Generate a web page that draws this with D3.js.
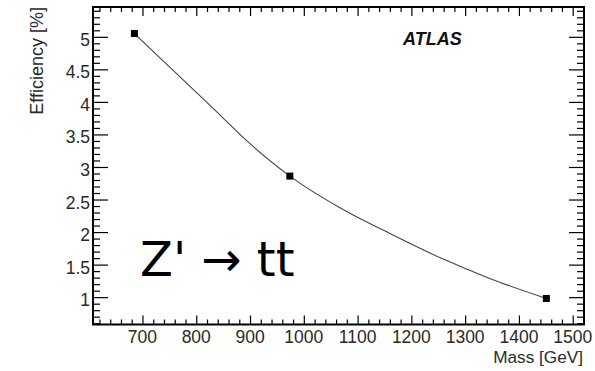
<!DOCTYPE html>
<html><head><meta charset="utf-8">
<script src="https://cdn.jsdelivr.net/npm/d3@7"></script>
<style>body{margin:0;background:#fff}svg{display:block}</style>
</head><body>
<svg id="c" width="595" height="371"></svg>
<script>
// measured points
const masses = [685, 974, 1451];
const efficiencies = [5.05, 2.86, 0.98];
// smooth curve through the points
const curveMasses = [685, 829, 901, 974, 1068, 1162, 1255, 1348, 1451];
const curveEff = [5.05, 3.92, 3.35, 2.86, 2.37, 1.97, 1.60, 1.28, 0.98];
const xTicks = [700, 800, 900, 1000, 1100, 1200, 1300, 1400, 1500];
const yTicks = [1, 1.5, 2, 2.5, 3, 3.5, 4, 4.5, 5];
const xLabel = "Mass [GeV]";
const yLabel = "Efficiency [%]";
const atlasLabel = "ATLAS";
const processLabel = "Z' \u2192 tt";

const svg = d3.select("#c");
const L = 93, R = 584, T = 7, B = 324.5;
const x = d3.scaleLinear().domain([608, 1521]).range([L, R]);
const y = d3.scaleLinear().domain([0.58, 5.458]).range([B, T]);
const font = "'Liberation Sans', Arial, sans-serif";

const xMinor = d3.range(620, 1521, 20).filter(v => v % 100 !== 0);
const yMinor = d3.range(6, 55, 1).filter(v => v % 5 !== 0).map(v => v / 10);

svg.append("rect").attr("x", L).attr("y", T).attr("width", R - L).attr("height", B - T)
  .attr("fill", "none").attr("stroke", "#000").attr("stroke-width", 2);

// tick labels
svg.append("g").selectAll("text").data(xTicks).join("text")
  .attr("x", d => x(d)).attr("y", 343).attr("text-anchor", "middle")
  .attr("font-family", font).attr("font-size", 17.5).attr("fill", "#2a2a2a").text(d => d);
svg.append("g").selectAll("text").data(yTicks).join("text")
  .attr("x", 90).attr("y", d => y(d) + 9).attr("text-anchor", "end")
  .attr("font-family", font).attr("font-size", 17.5).attr("fill", "#2a2a2a").text(d => d);

// axis titles
svg.append("text").attr("x", R - 1).attr("y", 363).attr("text-anchor", "end")
  .attr("font-family", font).attr("font-size", 17.2).attr("fill", "#2a2a2a").text(xLabel);
svg.append("text").attr("transform", "translate(43,7) rotate(-90)").attr("text-anchor", "end")
  .attr("font-family", font).attr("font-size", 18).attr("fill", "#2a2a2a").text(yLabel);

// curve
const curvePts = curveMasses.map((m, i) => [m, curveEff[i]]);
svg.append("path").datum(curvePts)
  .attr("d", d3.line().x(d => x(d[0])).y(d => y(d[1])).curve(d3.curveMonotoneX))
  .attr("fill", "none").attr("stroke", "#444").attr("stroke-width", 1.1);
const pts = masses.map((m, i) => [m, efficiencies[i]]);
svg.append("g").selectAll("rect").data(pts).join("rect")
  .attr("x", d => x(d[0]) - 3.5).attr("y", d => y(d[1]) - 3.5)
  .attr("width", 7).attr("height", 7).attr("fill", "#000");

// labels
svg.append("text").attr("x", 403).attr("y", 45).attr("font-family", font)
  .attr("font-size", 18).attr("font-weight", "bold").attr("font-style", "italic")
  .attr("fill", "#111").text(atlasLabel);
svg.append("text").attr("x", 140).attr("y", 276).attr("font-family", "'DejaVu Sans', sans-serif")
  .attr("font-size", 48).attr("fill", "#000").text(processLabel);

// axes with inward ticks on all four sides (drawn last)
function ax(gen, tx, ty) {
  const g = svg.append("g").attr("transform", `translate(${tx},${ty})`).call(gen);
  g.select(".domain").remove();
  g.selectAll(".tick line").style("stroke", "#000").style("stroke-width", "1.2px");
  return g;
}
ax(d3.axisBottom(x).tickValues(xTicks).tickSize(-9).tickFormat(""), 0, B);
ax(d3.axisBottom(x).tickValues(xMinor).tickSize(-5).tickFormat(""), 0, B);
ax(d3.axisTop(x).tickValues(xTicks).tickSize(-9).tickFormat(""), 0, T);
ax(d3.axisTop(x).tickValues(xMinor).tickSize(-5).tickFormat(""), 0, T);
ax(d3.axisLeft(y).tickValues(yTicks).tickSize(-15).tickFormat(""), L, 0);
ax(d3.axisLeft(y).tickValues(yMinor).tickSize(-7).tickFormat(""), L, 0);
ax(d3.axisRight(y).tickValues(yTicks).tickSize(-15).tickFormat(""), R, 0);
ax(d3.axisRight(y).tickValues(yMinor).tickSize(-7).tickFormat(""), R, 0);
</script>
</body></html>
